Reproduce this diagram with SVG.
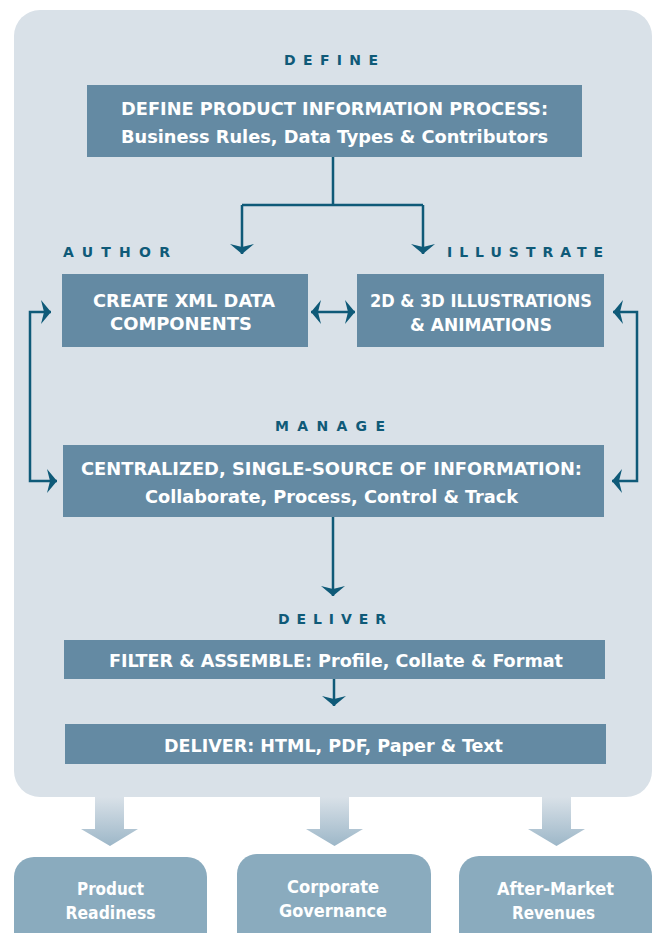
<svg xmlns="http://www.w3.org/2000/svg" width="653" height="933" viewBox="0 0 653 933">
<style>
.box{fill:#648aa3}
.out{fill:#8aabbe}
.t{font-family:"DejaVu Sans Condensed","DejaVu Sans","Liberation Sans",sans-serif;font-weight:bold;fill:#ffffff;text-anchor:middle}
.big{font-size:18px}
.ob{font-size:18px}
.lbl{font-family:"DejaVu Sans","Liberation Sans",sans-serif;font-weight:bold;font-size:14px;fill:#0f5a78}
.ln{fill:none;stroke:#0f5a78;stroke-width:2.5}
</style>
<defs>
<marker id="ah" viewBox="-10 -13 12 26" markerWidth="12" markerHeight="26" refX="0" refY="0" orient="auto" markerUnits="userSpaceOnUse">
<path d="M0,0 L-10,-12 L-7,0 L-10,12 Z" fill="#0f5a78"/>
</marker>
<marker id="ahs" viewBox="-10 -13 12 26" markerWidth="12" markerHeight="26" refX="0" refY="0" orient="auto-start-reverse" markerUnits="userSpaceOnUse">
<path d="M0,0 L-10,-12 L-7,0 L-10,12 Z" fill="#0f5a78"/>
</marker>
<linearGradient id="fat" x1="0" y1="0" x2="0" y2="1">
<stop offset="0" stop-color="#d9e1e8"/>
<stop offset="1" stop-color="#9db7c8"/>
</linearGradient>
</defs>

<rect id="panel" x="14" y="10" width="638" height="787" rx="26" fill="#d9e1e8"/>

<g id="labels">
<text class="lbl" x="284" y="65" textLength="94" lengthAdjust="spacing">DEFINE</text>
<text class="lbl" x="63" y="257" textLength="107" lengthAdjust="spacing">AUTHOR</text>
<text class="lbl" x="447" y="257" textLength="156" lengthAdjust="spacing">ILLUSTRATE</text>
<text class="lbl" x="275" y="431" textLength="110" lengthAdjust="spacing">MANAGE</text>
<text class="lbl" x="278" y="624" textLength="108" lengthAdjust="spacing">DELIVER</text>
</g>

<g id="define">
<rect class="box" x="87" y="85" width="495" height="72"/>
<text class="t big" x="334.5" y="115" textLength="427" lengthAdjust="spacingAndGlyphs">DEFINE PRODUCT INFORMATION PROCESS:</text>
<text class="t big" x="334.5" y="143" textLength="427" lengthAdjust="spacingAndGlyphs">Business Rules, Data Types &amp; Contributors</text>
</g>

<g id="author">
<rect class="box" x="62" y="274" width="246" height="73"/>
<text class="t big" x="184" y="307" textLength="182" lengthAdjust="spacingAndGlyphs">CREATE XML DATA</text>
<text class="t big" x="181" y="330" textLength="142" lengthAdjust="spacingAndGlyphs">COMPONENTS</text>
</g>

<g id="illustrate">
<rect class="box" x="357" y="274" width="247" height="73"/>
<text class="t big" x="481" y="307" textLength="222" lengthAdjust="spacingAndGlyphs">2D &amp; 3D ILLUSTRATIONS</text>
<text class="t big" x="481" y="331" textLength="142" lengthAdjust="spacingAndGlyphs">&amp; ANIMATIONS</text>
</g>

<g id="manage">
<rect class="box" x="63" y="445" width="541" height="72"/>
<text class="t big" x="331.5" y="475" textLength="501" lengthAdjust="spacingAndGlyphs">CENTRALIZED, SINGLE-SOURCE OF INFORMATION:</text>
<text class="t big" x="331.5" y="503" textLength="373" lengthAdjust="spacingAndGlyphs">Collaborate, Process, Control &amp; Track</text>
</g>

<g id="filter">
<rect class="box" x="64" y="640" width="541" height="39"/>
<text class="t big" x="336" y="667" textLength="454" lengthAdjust="spacingAndGlyphs">FILTER &amp; ASSEMBLE: Profile, Collate &amp; Format</text>
</g>

<g id="deliver">
<rect class="box" x="65" y="724" width="541" height="40"/>
<text class="t big" x="333.5" y="752" textLength="339" lengthAdjust="spacingAndGlyphs">DELIVER: HTML, PDF, Paper &amp; Text</text>
</g>

<g id="connectors">
<path class="ln" d="M333,157 V205 M242,205 H423 M242,205 V254" marker-end="url(#ah)"/>
<path class="ln" d="M423,205 V254" marker-end="url(#ah)"/>
<path class="ln" d="M311,312 H355" marker-start="url(#ahs)" marker-end="url(#ah)"/>
<path class="ln" d="M51,312 H30 V481 H57" marker-start="url(#ahs)" marker-end="url(#ah)"/>
<path class="ln" d="M613,312 H637 V481 H612" marker-start="url(#ahs)" marker-end="url(#ah)"/>
<path class="ln" d="M333,517 V596" marker-end="url(#ah)"/>
<path class="ln" d="M334,679 V706" marker-end="url(#ah)"/>
<g fill="url(#fat)">
<path d="M95,797 H124 V829 H138 L110,846 L81,829 H95 Z"/>
<path d="M320,797 H349 V829 H363 L334.5,846 L306,829 H320 Z"/>
<path d="M542,797 H571 V829 H585 L556.5,846 L528,829 H542 Z"/>
</g>
</g>

<g id="product-readiness">
<rect class="out" x="14" y="857" width="193" height="100" rx="20"/>
<text class="t ob" x="110.5" y="895" textLength="67" lengthAdjust="spacingAndGlyphs">Product</text>
<text class="t ob" x="110.5" y="919" textLength="90" lengthAdjust="spacingAndGlyphs">Readiness</text>
</g>
<g id="corporate-governance">
<rect class="out" x="237" y="854" width="194" height="100" rx="20"/>
<text class="t ob" x="333" y="893" textLength="92" lengthAdjust="spacingAndGlyphs">Corporate</text>
<text class="t ob" x="333" y="917" textLength="108" lengthAdjust="spacingAndGlyphs">Governance</text>
</g>
<g id="after-market-revenues">
<rect class="out" x="459" y="856" width="193" height="100" rx="20"/>
<text class="t ob" x="555.5" y="895" textLength="117" lengthAdjust="spacingAndGlyphs">After-Market</text>
<text class="t ob" x="553.5" y="919" textLength="83" lengthAdjust="spacingAndGlyphs">Revenues</text>
</g>
</svg>
